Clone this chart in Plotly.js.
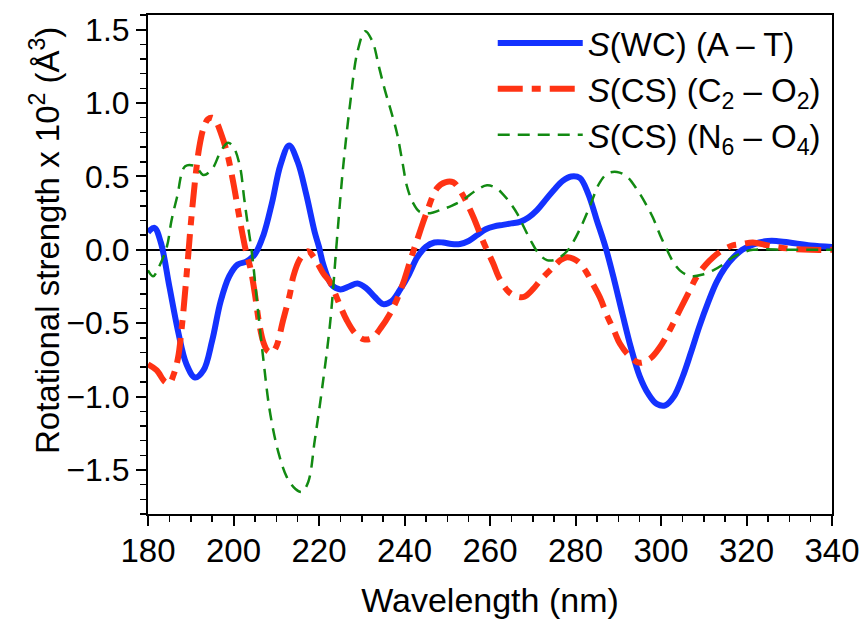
<!DOCTYPE html>
<html>
<head>
<meta charset="utf-8">
<script src="https://cdn.plot.ly/plotly-3.0.1.min.js"></script>
<style>html,body{margin:0;padding:0;background:#fff;}#chart{width:864px;height:619px;}</style>
</head>
<body>
<div id="chart"></div>
<script>
// S(WC) (A – T)
const wcX = [180,181.5,183,185,187,189,191,193,195,197,199,201,203,205,207,209,211,213,215,217,219,220,221,223,225,227,229,231,233,235,237,239,241,243,245,247,249,251,253,255,257,259,261,263,265,267,269,271,273,275,277,279,281,283,285,287,289,291,293,295,297,299,301,303,305,307,309,311,313,315,317,319,321,323,325,327,330,335,340];
const wcY = [0.12,0.15,0.05,-0.25,-0.55,-0.78,-0.87,-0.82,-0.62,-0.35,-0.18,-0.1,-0.08,-0.03,0.1,0.32,0.58,0.71,0.6,0.38,0.12,0.02,-0.1,-0.24,-0.27,-0.25,-0.23,-0.26,-0.32,-0.37,-0.35,-0.27,-0.17,-0.05,0.02,0.05,0.05,0.04,0.04,0.06,0.1,0.14,0.16,0.17,0.18,0.19,0.22,0.27,0.34,0.41,0.47,0.5,0.49,0.38,0.2,0.02,-0.2,-0.44,-0.67,-0.86,-0.98,-1.05,-1.06,-1.0,-0.87,-0.7,-0.52,-0.36,-0.22,-0.12,-0.05,0.0,0.03,0.05,0.06,0.06,0.05,0.03,0.02];

// S(CS) (C2 – O2)
const c2o2X = [180,182,184,185,186,187,188,189,190,191,192,193,194,195,196,197,198.5,200,201.5,203,204,205,206,207,208,209,210,211.6,213.2,214,215.6,217.4,219,221,222.6,224.5,226.5,228.5,230.5,232.5,234.5,236.5,238.2,240,241.5,243,245,247.6,249.5,251.4,253.5,256,258.5,260.7,262.3,264.5,266.5,268,270,272,274.7,276.5,278,279.5,281,282.5,284,285.8,287.4,289,290.4,292.5,295,297.5,299.8,302,304.4,306.5,308.4,310.5,312.2,314.5,316.8,319,321.5,325,329.4,335,340];
const c2o2Y = [-0.78,-0.82,-0.9,-0.91,-0.85,-0.74,-0.5,-0.18,0.17,0.47,0.7,0.83,0.89,0.9,0.87,0.8,0.66,0.45,0.2,-0.02,-0.13,-0.3,-0.5,-0.63,-0.69,-0.7,-0.66,-0.48,-0.3,-0.18,-0.06,-0.01,-0.06,-0.16,-0.22,-0.35,-0.48,-0.57,-0.61,-0.6,-0.53,-0.44,-0.34,-0.2,-0.06,0.07,0.24,0.42,0.46,0.46,0.38,0.23,0.05,-0.09,-0.2,-0.29,-0.32,-0.32,-0.27,-0.2,-0.12,-0.07,-0.05,-0.06,-0.09,-0.15,-0.23,-0.33,-0.45,-0.55,-0.64,-0.72,-0.77,-0.74,-0.66,-0.55,-0.41,-0.29,-0.18,-0.1,-0.05,0.0,0.03,0.04,0.05,0.03,0.01,0.0,0.0];

// S(CS) (N6 – O4)
const n6o4X = [180,181.2,182.5,184.4,185.5,186.8,188.7,191,193,195,197,198.7,200,201.5,202.5,203.2,204.3,205.5,207,208.5,210.5,212.5,214.5,216,217.5,219,220.7,222.6,224.2,225.6,227.3,229,230.8,232.5,234,235.4,236.8,238.2,239.5,240.6,242,243.5,246,248.3,251,253.7,256.5,259.3,261.5,263,264.7,266.3,268,269.4,271.5,273.3,275,276.4,278,279.4,281.5,283.4,285.7,287.5,289.7,292,294.4,296.3,298.1,299.8,301.4,303,304.4,306,307.5,309.5,312.2,314.5,316.8,319,321.5,330,340];
const n6o4Y = [-0.14,-0.18,-0.12,0.02,0.2,0.36,0.57,0.57,0.51,0.55,0.67,0.73,0.7,0.57,0.35,0.2,-0.02,-0.35,-0.75,-1.1,-1.38,-1.55,-1.63,-1.65,-1.58,-1.3,-0.95,-0.5,0.07,0.55,1.0,1.35,1.49,1.42,1.25,1.09,0.95,0.8,0.6,0.43,0.32,0.26,0.25,0.27,0.3,0.34,0.4,0.44,0.42,0.38,0.32,0.25,0.15,0.07,-0.03,-0.07,-0.07,-0.05,-0.01,0.05,0.17,0.3,0.46,0.52,0.53,0.5,0.41,0.32,0.22,0.1,0.0,-0.09,-0.14,-0.17,-0.18,-0.17,-0.14,-0.1,-0.05,-0.02,0.0,0.0,0.0];

const seriesNames = ['<i>S</i>(WC) (A – T)', '<i>S</i>(CS) (C<sub>2</sub> – O<sub>2</sub>)', '<i>S</i>(CS) (N<sub>6</sub> – O<sub>4</sub>)'];
const xTitle = 'Wavelength (nm)';
const yTitle = 'Rotational strength x 10<sup>2</sup> (Å<sup>3</sup>)';

const FONT = 'Liberation Sans, Arial, sans-serif';

const traces = [
  {x: wcX, y: wcY, name: seriesNames[0], type: 'scatter', mode: 'lines',
   line: {color: '#1432ff', width: 6, shape: 'spline', smoothing: 1}},
  {x: c2o2X, y: c2o2Y, name: seriesNames[1], type: 'scatter', mode: 'lines',
   line: {color: '#ff3314', width: 6, dash: '25px,9px,9px,9px', shape: 'spline', smoothing: 1}},
  {x: n6o4X, y: n6o4Y, name: seriesNames[2], type: 'scatter', mode: 'lines',
   line: {color: '#128a12', width: 2.5, dash: '12px,8px', shape: 'spline', smoothing: 1}}
];

const layout = {
  width: 864, height: 619,
  margin: {l: 148, r: 32, t: 15, b: 105},
  paper_bgcolor: '#fff', plot_bgcolor: '#fff',
  font: {family: FONT, color: '#000', size: 32},
  showlegend: true,
  legend: {x: 0.504, xanchor: 'left', y: 1.0, yanchor: 'top', bgcolor: 'rgba(0,0,0,0)',
           font: {family: FONT, size: 33}, itemwidth: 85, tracegroupgap: 0},
  xaxis: {
    range: [180, 340], dtick: 20, tick0: 180,
    showgrid: false, zeroline: false,
    showline: true, linecolor: '#000', linewidth: 2, mirror: true,
    ticks: 'outside', ticklen: 10, tickwidth: 2, tickcolor: '#000',
    minor: {dtick: 5, ticks: 'outside', ticklen: 6, tickwidth: 1.5, tickcolor: '#000'},
    tickfont: {family: FONT, size: 33}, ticklabelstandoff: -4,
    title: {text: xTitle, font: {family: FONT, size: 34}, standoff: 22}
  },
  yaxis: {
    range: [-1.8, 1.6], dtick: 0.5, tick0: 0, tickformat: '.1f',
    showgrid: false, zeroline: true, zerolinecolor: '#000', zerolinewidth: 1.5,
    showline: true, linecolor: '#000', linewidth: 2, mirror: true,
    ticks: 'outside', ticklen: 10, tickwidth: 2, tickcolor: '#000',
    minor: {dtick: 0.1, ticks: 'outside', ticklen: 6, tickwidth: 1.5, tickcolor: '#000'},
    tickfont: {family: FONT, size: 32}
  },
  annotations: [{
    text: yTitle, textangle: -90, showarrow: false,
    xref: 'paper', yref: 'paper', x: -0.1506, y: 0.549, xanchor: 'center', yanchor: 'middle',
    font: {family: FONT, size: 33, color: '#000'}
  }]
};

Plotly.newPlot('chart', traces, layout, {displayModeBar: false, staticPlot: true});
</script>
</body>
</html>
